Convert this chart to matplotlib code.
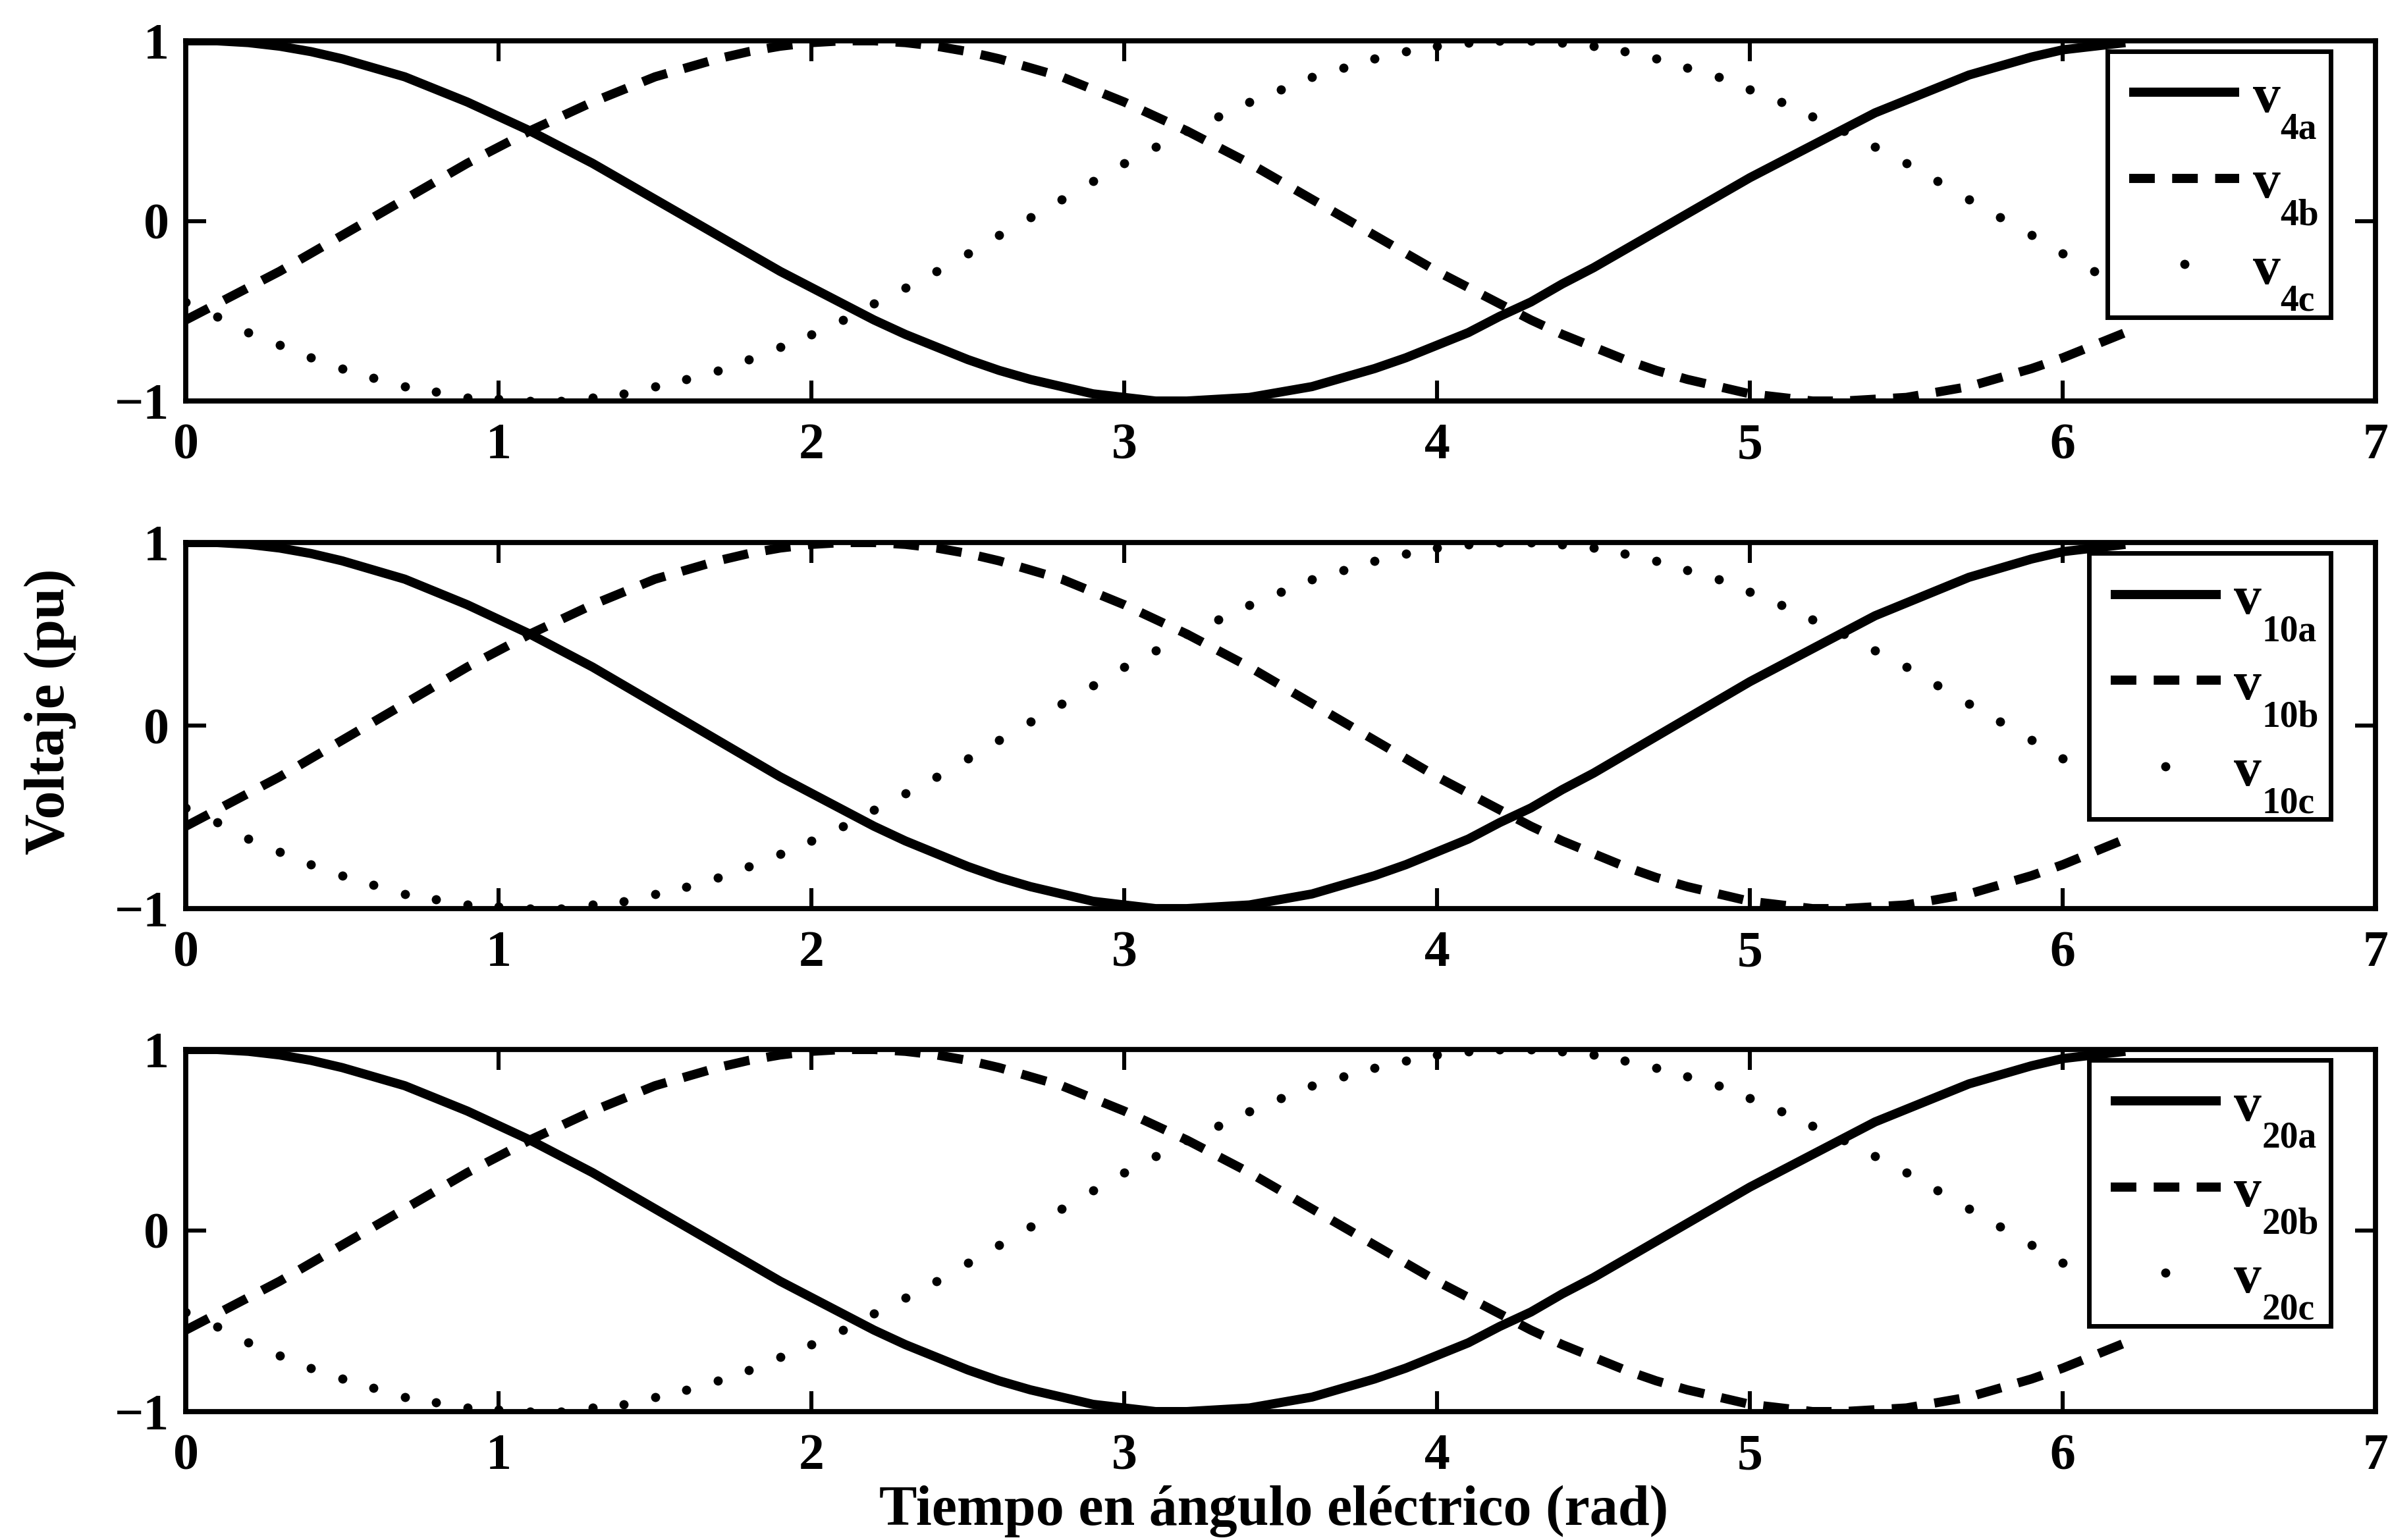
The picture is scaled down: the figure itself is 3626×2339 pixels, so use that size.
import matplotlib
matplotlib.use("Agg")
from matplotlib import pyplot as plt

plt.rcParams['font.family'] = ['Liberation Serif', 'DejaVu Serif']
plt.rcParams['font.weight'] = 'bold'

# Electrical angle samples (rad)
theta = [0.0, 0.1, 0.2, 0.3, 0.4, 0.5, 0.6, 0.7, 0.8, 0.9,
         1.0, 1.1, 1.2, 1.3, 1.4, 1.5, 1.6, 1.7, 1.8, 1.9,
         2.0, 2.1, 2.2, 2.3, 2.4, 2.5, 2.6, 2.7, 2.8, 2.9,
         3.0, 3.1, 3.2, 3.3, 3.4, 3.5, 3.6, 3.7, 3.8, 3.9,
         4.0, 4.1, 4.2, 4.3, 4.4, 4.5, 4.6, 4.7, 4.8, 4.9,
         5.0, 5.1, 5.2, 5.3, 5.4, 5.5, 5.6, 5.7, 5.8, 5.9,
         6.0, 6.1, 6.2]

# Phase voltages (pu)
v_a = [1.00, 1.00, 0.99, 0.97, 0.94, 0.90, 0.85, 0.80, 0.73, 0.66,
       0.58, 0.50, 0.41, 0.32, 0.22, 0.12, 0.02, -0.08, -0.18, -0.28,
       -0.37, -0.46, -0.55, -0.63, -0.70, -0.77, -0.83, -0.88, -0.92, -0.96,
       -0.98, -1.00, -1.00, -0.99, -0.98, -0.95, -0.92, -0.87, -0.82, -0.76,
       -0.69, -0.62, -0.53, -0.45, -0.35, -0.26, -0.16, -0.06, 0.04, 0.14,
       0.24, 0.33, 0.42, 0.51, 0.60, 0.67, 0.74, 0.81, 0.86, 0.91,
       0.95, 0.97, 0.99]
v_b = [-0.55, -0.46, -0.37, -0.28, -0.18, -0.08, 0.02, 0.12, 0.22, 0.32,
       0.41, 0.50, 0.58, 0.66, 0.73, 0.80, 0.85, 0.90, 0.94, 0.97,
       0.99, 1.00, 1.00, 0.99, 0.97, 0.94, 0.90, 0.85, 0.80, 0.73,
       0.66, 0.58, 0.50, 0.41, 0.32, 0.22, 0.12, 0.02, -0.08, -0.18,
       -0.28, -0.37, -0.46, -0.55, -0.63, -0.70, -0.77, -0.83, -0.88, -0.92,
       -0.96, -0.98, -1.00, -1.00, -0.99, -0.98, -0.95, -0.92, -0.87, -0.82,
       -0.76, -0.69, -0.62]
v_c = [-0.45, -0.53, -0.62, -0.69, -0.76, -0.82, -0.87, -0.92, -0.95, -0.98,
       -0.99, -1.00, -1.00, -0.98, -0.96, -0.92, -0.88, -0.83, -0.77, -0.70,
       -0.63, -0.55, -0.46, -0.37, -0.28, -0.18, -0.08, 0.02, 0.12, 0.22,
       0.32, 0.41, 0.50, 0.58, 0.66, 0.73, 0.80, 0.85, 0.90, 0.94,
       0.97, 0.99, 1.00, 1.00, 0.99, 0.97, 0.94, 0.90, 0.85, 0.80,
       0.73, 0.66, 0.58, 0.50, 0.41, 0.32, 0.22, 0.12, 0.02, -0.08,
       -0.18, -0.28, -0.37]

orders = ['4', '10', '20']       # harmonic order of each panel
phases = ['a', 'b', 'c']
x_ticks = [0, 1, 2, 3, 4, 5, 6, 7]
y_ticks = [-1, 0, 1]

fig = plt.figure(figsize=(18.13, 11.695), dpi=200)

# panel boxes [left, bottom, width, height] in figure fraction
boxes = [[0.0778, 0.7396, 0.917, 0.2339],
         [0.0778, 0.4100, 0.917, 0.2377],
         [0.0778, 0.0834, 0.917, 0.2351]]
leg_left = [0.8776, 0.869, 0.869]   # legend box left edge (axes fraction)

for box, n, lx in zip(boxes, orders, leg_left):
    ax = fig.add_axes(box)
    ax.plot(theta, v_a, color='black', lw=5.0, solid_capstyle='butt',
            solid_joinstyle='round', label='v')
    ax.plot(theta, v_b, color='black', lw=5.0, ls=(0, (2.8, 1.9)), label='v')
    ax.plot(theta, v_c, color='black', ls='none', marker='o', ms=5.0, mew=0, label='v')

    ax.set_xlim(0, 7)
    ax.set_ylim(-1, 1)
    ax.set_xticks(x_ticks)
    ax.set_yticks(y_ticks)
    ax.tick_params(direction='in', top=True, right=True, length=11, width=2.2,
                   labelsize=28, color='black')
    ax.tick_params(axis='x', pad=12)
    ax.tick_params(axis='y', pad=9)
    for s in ax.spines.values():
        s.set_linewidth(2.8)

    # Legend box on the right, subscripts added next to each "v"
    leg = ax.legend(loc='upper left', bbox_to_anchor=(lx, 0.25, 0.9795 - lx, 0.721),
                    mode='expand', borderaxespad=0, numpoints=1,
                    handlelength=2.0, handletextpad=0.25, borderpad=0.4,
                    labelspacing=0.65, fancybox=False, framealpha=1,
                    edgecolor='black', prop={'size': 30, 'weight': 'bold'})
    leg.get_frame().set_linewidth(2.5)
    for txt, p in zip(leg.get_texts(), phases):
        ax.annotate(n + p, xy=(1, 0), xycoords=txt, xytext=(0, 6),
                    textcoords='offset points', ha='left', va='top',
                    fontsize=20, fontweight='bold', zorder=10)

# Shared axis labels
fig.text(0.021, 0.538, 'Voltaje (pu)', rotation=90, ha='center', va='center',
         fontsize=31, fontweight='bold')
fig.text(0.5334, 0.0098, 'Tiempo en ángulo eléctrico (rad)', ha='center',
         va='baseline', fontsize=31, fontweight='bold')

fig.savefig('out.png', dpi=200)
